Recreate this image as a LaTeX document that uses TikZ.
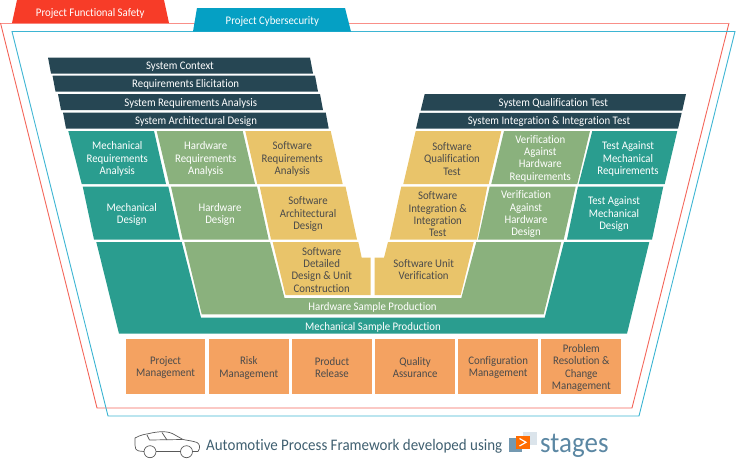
\documentclass[tikz,border=0pt]{standalone}
\usepackage{fontspec}
\setmainfont{Carlito}[FakeStretch=0.93,Ligatures=NoCommon]
\definecolor{cDark}{HTML}{264653}
\definecolor{cTeal}{HTML}{2A9D8F}
\definecolor{cGreen}{HTML}{8AB17D}
\definecolor{cYellow}{HTML}{E9C46A}
\definecolor{cOrange}{HTML}{F4A261}
\definecolor{cRed}{HTML}{F73C28}
\definecolor{cBlue}{HTML}{05A0C4}
\definecolor{cLineRed}{HTML}{F4665A}
\definecolor{cLineRedTop}{HTML}{F98F88}
\definecolor{cLineBlue}{HTML}{3DB5D3}
\definecolor{cInk}{HTML}{4B4B4B}
\definecolor{cFoot}{HTML}{3F5F70}
\definecolor{cStages}{HTML}{5B87A3}
\tikzset{
  lab/.style={inner sep=0pt,align=center,yshift=-1pt,font=\fontsize{11.6}{12.35}\selectfont},
  lightlab/.style={lab,text=white},
  darklab/.style={lab,text=cInk},
  frameline/.style={line width=0.9pt,line join=miter},
}
\begin{document}
\begin{tikzpicture}[x=1pt,y=-1pt]
\useasboundingbox (0,0) rectangle (736,463);
% frames
\draw[frameline,cLineRed] (0.5,23) -- (97,408) -- (632,408) -- (729,23);
\draw[frameline,cLineRedTop] (0.5,23) -- (729,23);
\draw[frameline,cLineBlue] (12,31.5) -- (735,31.5) -- (639,416) -- (108,416) -- cycle;
% tabs
\fill[cRed] (12,23) -- (17,0) -- (164,0) -- (169,23) -- cycle;
\fill[cBlue] (193,31.5) -- (197,8) -- (345,8) -- (351,31.5) -- cycle;
\node[lightlab] (tabF) at (90.3,12) {Project Functional Safety};
\node[lightlab] (tabC) at (272.3,20.7) {Project Cybersecurity};
% system bars
\fill[cDark] (48,57.5) -- (310,57.5) -- (313,73.5) -- (51,73.5) -- cycle;
\fill[cDark] (52.5,75.6) -- (315,75.6) -- (318,91.5) -- (55.5,91.5) -- cycle;
\fill[cDark] (58,94) -- (320,94) -- (323,110) -- (61,110) -- cycle;
\fill[cDark] (63,112.5) -- (325.7,112.5) -- (328.7,128.5) -- (66,128.5) -- cycle;
\fill[cDark] (424.7,94) -- (686,94) -- (682.3,110.5) -- (420.7,110.5) -- cycle;
\fill[cDark] (419.7,112.8) -- (681.7,112.8) -- (678,128.7) -- (416,128.7) -- cycle;
\node[lightlab] (n1) at (180,65.5) {System Context};
\node[lightlab] (n2) at (185.7,83.7) {Requirements Elicitation};
\node[lightlab] (n3) at (190.7,102.3) {System Requirements Analysis};
\node[lightlab] (n4) at (196,120.7) {System Architectural Design};
\node[lightlab] (n5) at (553.3,102.5) {System Qualification Test};
\node[lightlab] (n6) at (549,121) {System Integration \& Integration Test};
% row 1
\fill[cTeal] (68.3,131) -- (154,131) -- (166,184) -- (81.7,184) -- cycle;
\fill[cGreen] (156.7,131) -- (242.7,131) -- (255,184) -- (169.3,184) -- cycle;
\fill[cYellow] (245.3,131) -- (330.7,131) -- (342.7,184) -- (257.3,184) -- cycle;
\fill[cYellow] (415.7,131) -- (501.3,131) -- (488.7,184) -- (403.3,184) -- cycle;
\fill[cGreen] (504,131) -- (590,131) -- (577.3,184) -- (491.3,184) -- cycle;
\fill[cTeal] (592.3,131) -- (677.3,131) -- (664.7,184) -- (578.7,184) -- cycle;
\node[lightlab] (a1) at (117.3,158) {Mechanical\\Requirements\\Analysis};
\node[lightlab] (a2) at (205.7,158) {Hardware\\Requirements\\Analysis};
\node[darklab] (a3) at (292.3,158) {Software\\Requirements\\Analysis};
\node[darklab] (a4) at (452,158) {Software\\Qualification\\Test};
\node[lightlab] (a5) at (540.3,157.7) {Verification\\Against\\Hardware\\Requirements};
\node[lightlab] (a6) at (628,158) {Test Against\\Mechanical\\Requirements};
% row 2
\fill[cTeal] (82.7,186.5) -- (168.3,186.5) -- (180,239.5) -- (94,239.5) -- cycle;
\fill[cGreen] (171,186.5) -- (257,186.5) -- (268.7,239.5) -- (182.7,239.5) -- cycle;
\fill[cYellow] (259.7,186.5) -- (345.5,186.5) -- (357,239.5) -- (271,239.5) -- cycle;
\fill[cYellow] (401.3,186.5) -- (487.3,186.5) -- (477,239.5) -- (389.7,239.5) -- cycle;
\fill[cGreen] (489.7,186.5) -- (575.7,186.5) -- (563.7,239.5) -- (478,239.5) -- cycle;
\fill[cTeal] (578,186.5) -- (663.3,186.5) -- (652,239.5) -- (567,239.5) -- cycle;
\node[lightlab] (b1) at (131.7,213.5) {Mechanical\\Design};
\node[lightlab] (b2) at (220,213.5) {Hardware\\Design};
\node[darklab] (b3) at (308,213.3) {Software\\Architectural\\Design};
\node[darklab] (b4) at (437.7,213.3) {Software\\Integration \&\\Integration\\Test};
\node[lightlab] (b5) at (526,213.3) {Verification\\Against\\Hardware\\Design};
\node[lightlab] (b6) at (614,213.3) {Test Against\\Mechanical\\Design};
% bottom of the V
\fill[cTeal] (96.3,242) -- (181.7,242) -- (201,317.7) -- (544.7,317.7) -- (564,242) -- (649.3,242) -- (627,333.7) -- (119,333.7) -- cycle;
\fill[cGreen] (184.3,242) -- (270,242) -- (284.5,298) -- (461.3,298) -- (476.3,242) -- (561.3,242) -- (543.7,314.3) -- (201.7,314.3) -- cycle;
\fill[cYellow] (272.7,242) -- (358.3,242) -- (361.7,257.7) -- (370.7,257.7) -- (370.7,295) -- (285.5,295) -- cycle;
\fill[cYellow] (388,242) -- (473.7,242) -- (460.7,295) -- (374.7,295) -- (374.7,257.7) -- (384,257.7) -- cycle;
\node[darklab] (c1) at (321.7,268.7) {Software\\Detailed\\Design \& Unit\\Construction};
\node[darklab] (c2) at (423.7,268.7) {Software Unit\\Verification};
\node[lightlab] (c3) at (372.5,306.7) {Hardware Sample Production};
\node[lightlab] (c4) at (373,326) {Mechanical Sample Production};
% support processes
\fill[cOrange] (126,339) rectangle (205.3,394.3);
\fill[cOrange] (209,339) rectangle (288.7,394.3);
\fill[cOrange] (292,339) rectangle (372,394.3);
\fill[cOrange] (375.3,339) rectangle (455,394.3);
\fill[cOrange] (458.3,339) rectangle (538,394.3);
\fill[cOrange] (541.3,339) rectangle (621.3,394.3);
\node[darklab] (d1) at (165.6,366.8) {Project\\Management};
\node[darklab] (d2) at (248.8,366.8) {Risk\\Management};
\node[darklab] (d3) at (332,366.8) {Product\\Release};
\node[darklab] (d4) at (415.1,366.8) {Quality\\Assurance};
\node[darklab] (d5) at (498.2,366.8) {Configuration\\Management};
\node[darklab] (d6) at (581.3,366.8) {Problem\\Resolution \&\\Change\\Management};
% car
\begin{scope}[line width=0.7pt,draw=black!65,line join=round]
\draw (144,451.5) -- (139,451) .. controls (135.5,450) and (135,448) .. (135,445) -- (135,438)
  .. controls (140,435) and (146,434) .. (147,434)
  .. controls (153,432.5) and (158,431.7) .. (163,431.7)
  .. controls (168,431.7) and (172,433) .. (175,435)
  -- (183,439.5)
  .. controls (188,440.5) and (193,441) .. (197,442.5)
  .. controls (200,444) and (200.5,448) .. (198,451.5) -- (193,451.5);
\draw (156,451.5) -- (180.5,451.5);
\draw (150,451.7) circle[radius=6];
\draw (186.5,451.7) circle[radius=6];
\draw (147,435) -- (149.5,440) -- (182.5,439.5);
\draw (162,432.5) -- (167,440);
\end{scope}
% footer
\node[inner sep=0pt,anchor=west,text=cFoot,font=\fontsize{16.1}{18}\selectfont] (foot) at (206,446) {Automotive Process Framework developed using};
\fill[cStages!85] (508.7,438) rectangle (522,452);
\fill[cStages!22] (523,431.7) rectangle (537,445);
\fill[orange!85!red] (515.7,435.7) rectangle (529.7,449);
\draw[white,line width=1.2pt] (519.5,438.5) -- (526,442.3) -- (519.5,446);
\node[inner sep=0pt,anchor=base west,text=cStages,font=\fontsize{29}{30}\selectfont] (logo) at (540,452) {stages};
\end{tikzpicture}
\end{document}
